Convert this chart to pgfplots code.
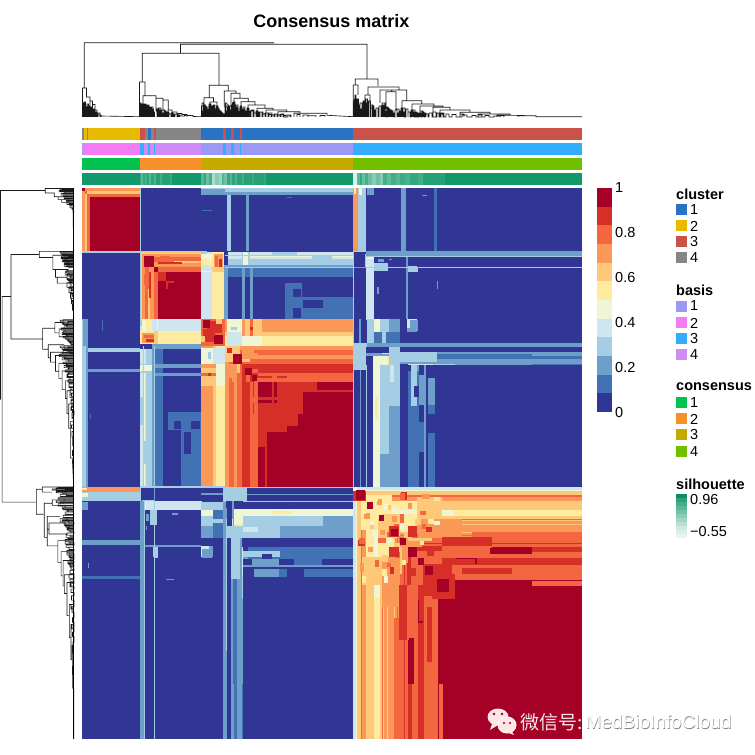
\documentclass[border=0pt]{standalone}
\usepackage{pgfplots}
\usepackage{pgfplotstable}
\usepackage{fontspec}
\pgfplotsset{compat=1.18}
\setmainfont{Liberation Sans}
\newfontfamily\cjk{Noto Sans CJK SC}

% consensus colour levels, 0 to 1
\definecolor{c0}{HTML}{313695}\definecolor{c1}{HTML}{4372B4}\definecolor{c2}{HTML}{6E9FCB}
\definecolor{c3}{HTML}{A5CDE3}\definecolor{c4}{HTML}{CFE6EF}\definecolor{c5}{HTML}{EEF6D6}
\definecolor{c6}{HTML}{FEEBA0}\definecolor{c7}{HTML}{FDC878}\definecolor{c8}{HTML}{FC9857}
\definecolor{c9}{HTML}{F26640}\definecolor{c10}{HTML}{D52F27}\definecolor{c11}{HTML}{A50026}
% annotation colours
\definecolor{cl1}{HTML}{2A72C3}\definecolor{cl2}{HTML}{E8BA00}\definecolor{cl3}{HTML}{C9524A}\definecolor{cl4}{HTML}{868686}
\definecolor{ba1}{HTML}{9B99F5}\definecolor{ba2}{HTML}{F57BF5}\definecolor{ba3}{HTML}{33AEFF}\definecolor{ba4}{HTML}{CF8CF5}
\definecolor{co1}{HTML}{00C24F}\definecolor{co2}{HTML}{F59128}\definecolor{co3}{HTML}{C4A900}\definecolor{co4}{HTML}{70C000}
\definecolor{sil}{HTML}{11996B}

% one filled block: colour, x from, x to, y from, y to
\newcommand{\Rc}[5]{\addplot[fill=#1,draw=none,forget plot] coordinates {(#2,#4)(#3,#4)(#3,#5)(#2,#5)} --cycle;}
% the matrix is symmetric: cols #2-#3 x rows #4-#5 and its mirror
\newcommand{\Sy}[5]{\Rc{#1}{#2}{#3}{#4}{#5}\Rc{#1}{#4}{#5}{#2}{#3}}
\newcommand{\Sl}[3]{\Rc{sil!#1!white}{#2}{#3}{173}{185}}
\newcommand{\Lg}[2]{\node[anchor=west,font=\fontsize{14.5}{15}\selectfont,inner sep=0pt] at (axis cs:#1,#2)}
\newcommand{\Ti}[2]{\node[anchor=west,font=\fontsize{14.5}{15}\selectfont\bfseries,inner sep=0pt] at (axis cs:#1,#2)}

% dendrogram, shared by top and left: leaf position u, height h
\pgfplotstableread[row sep=crcr]{
u h\\
2.3 29\\2.3 74.3\\192 74.3\\nan nan\\
285 38\\285 72.7\\98.5 72.7\\98.5 63.7\\60.3 63.7\\60.3 35\\nan nan\\
98.5 63.7\\137 63.7\\137 31.7\\nan nan\\
127.3 19.3\\127.3 31.7\\146.3 31.7\\146.3 26\\nan nan\\
0.5 0\\0.5 29\\4.5 29\\4.5 20\\8 20\\8 0\\8 16\\10.5 16\\10.5 0\\10.5 12.5\\13 12.5\\13 0\\13 7\\15 7\\15 0\\15 4\\18 4\\18 0\\18 1\\57.5 0.3\\nan nan\\
1.5 0\\1.5 14\\3 14\\3 0\\3 9\\4.5 9\\4.5 0\\nan nan\\
6 0\\6 11\\8 11\\nan nan\\9 0\\9 9\\10.5 9\\nan nan\\11.5 0\\11.5 7\\13 7\\nan nan\\
57.5 0\\57.5 35\\63 35\\63 21.3\\nan nan\\
60 0\\60 13\\63 13\\63 0\\63 9\\65 9\\65 0\\65 12\\67 12\\67 0\\67 7\\69 7\\69 0\\69 10\\71 10\\71 0\\71 5\\72.5 5\\72.5 0\\nan nan\\
61 13\\61 21.3\\74 21.3\\74 18.7\\81 18.7\\81 17\\86.3 17\\86.3 7\\nan nan\\
62 0\\62 6\\64 6\\nan nan\\66 0\\66 5\\68 5\\nan nan\\
74 18.7\\74 6\\76 6\\76 0\\76 9\\79 9\\79 0\\79 3\\81 3\\81 0\\nan nan\\
81 17\\81 7\\83 7\\83 0\\83 4\\86 4\\86 0\\86 7\\90 7\\90 0\\90 5\\95 5\\95 0\\95 3.5\\100 3.5\\100 0\\100 2.5\\105 2.5\\105 0\\105 1.5\\111 1.5\\111 0\\111 0.5\\119 0.3\\nan nan\\
92 0\\92 3\\94 3\\nan nan\\97 0\\97 2\\99 2\\nan nan\\102 0\\102 1.5\\104 1.5\\nan nan\\
122 11\\122 19.3\\131.5 19.3\\131.5 15\\nan nan\\
119.5 0\\119.5 11\\124 11\\124 0\\124 8\\126 8\\126 0\\nan nan\\121 0\\121 6\\123 6\\nan nan\\
128 0\\128 15\\135 15\\135 0\\135 9\\137 9\\137 0\\137 5\\140 5\\140 0\\140 3\\142 3\\142 0\\nan nan\\
130 0\\130 11\\132 11\\132 0\\132 7\\134 7\\134 0\\nan nan\\
142.3 10\\142.3 26\\154 26\\154 23.7\\nan nan\\
143 0\\143 10\\146 10\\146 0\\146 7\\148 7\\148 0\\148 4\\150 4\\150 0\\nan nan\\144.5 0\\144.5 6\\147 6\\nan nan\\
149 0\\149 23.7\\158 23.7\\158 18.7\\nan nan\\
151 0\\151 15\\153 15\\153 0\\153 10\\155 10\\155 0\\155 6\\157 6\\157 0\\nan nan\\
152 0\\152 18.7\\166.3 18.7\\166.3 15.3\\nan nan\\
159 0\\159 15.3\\173 15.3\\173 12\\nan nan\\160 0\\160 8\\162 8\\162 0\\162 5\\164 5\\164 0\\nan nan\\
166 0\\166 12\\183 12\\183 8.7\\nan nan\\168 0\\168 6\\171 6\\171 0\\nan nan\\
175 0\\175 8.7\\191 8.7\\191 7\\nan nan\\177 0\\177 5\\180 5\\180 0\\nan nan\\
184 0\\184 7\\204.7 7\\204.7 5.3\\nan nan\\187 0\\187 4\\190 4\\190 0\\190 2\\193 2\\193 0\\nan nan\\
196 0\\196 5.3\\218 5.3\\218 3.7\\nan nan\\199 0\\199 3\\202 3\\202 0\\206 0\\206 2\\209 2\\209 0\\nan nan\\
212 0\\212 3.7\\245 3.7\\245 1.7\\271 0.3\\nan nan\\215 0\\215 2.5\\218 2.5\\218 0\\nan nan\\221 0\\221 2\\226 2\\226 0\\226 1.2\\234 1.2\\234 0\\nan nan\\238 0\\238 1.5\\243 1.5\\243 0\\nan nan\\
273.3 32\\273.3 38\\296 38\\296 31\\nan nan\\
271.3 0\\271.3 32\\276 32\\276 22\\nan nan\\272.5 0\\272.5 18\\275 18\\275 0\\275 12\\277 12\\277 0\\277 8\\279 8\\279 0\\nan nan\\273.8 0\\273.8 9\\276 9\\nan nan\\
286 22\\286 30\\317 30\\317 27\\nan nan\\
283 0\\283 22\\288 22\\288 0\\288 12\\291 12\\291 0\\291 7\\293 7\\293 0\\nan nan\\285 0\\285 14\\287 14\\nan nan\\
298 14\\298 27\\325 27\\nan nan\\309.7 25.3\\309.7 27\\nan nan\\
300 0\\300 14\\303 14\\303 0\\303 10\\306 10\\306 0\\nan nan\\
309.7 25.3\\304 25.3\\304 8\\308 8\\308 0\\308 6\\311 6\\311 0\\nan nan\\309.7 25.3\\314 25.3\\314 8\\317 8\\317 0\\nan nan\\
324.7 27\\324.7 16.3\\320 16.3\\320 0\\320 9\\323 9\\323 0\\nan nan\\
324.7 16.3\\339.7 16.3\\339.7 13\\330 13\\330 0\\330 7\\333 7\\333 0\\333 4\\336 4\\336 0\\nan nan\\
339.7 13\\352 13\\352 11\\338 11\\338 0\\338 6\\341 6\\341 0\\341 4\\344 4\\344 0\\nan nan\\
352 11\\361 11\\361 9.7\\351 9.7\\351 0\\351 5\\354 5\\354 0\\nan nan\\
361 9.7\\368 9.7\\368 7\\358 7\\358 0\\358 4\\362 4\\362 0\\nan nan\\
368 7\\388 7\\388 4.7\\378 4.7\\378 0\\378 3\\382 3\\382 0\\nan nan\\
388 4.7\\408 4.7\\408 3\\396 3\\396 0\\396 2\\400 2\\400 0\\nan nan\\
408 3\\428 3\\428 1.7\\415 1.7\\415 0\\415 1.2\\422 1.2\\422 0\\nan nan\\
428 1.7\\454 1.2\\454 0.3\\500 0.3\\nan nan\\436 0\\436 1.2\\448 1.2\\nan nan\\
1 0\\1 12\\2 12\\2 0\\2 15\\3.5 15\\3.5 0\\3.5 10\\5 10\\5 0\\5 13\\6.5 13\\6.5 0\\6.5 8\\7.5 8\\7.5 0\\7.5 10\\9.5 10\\9.5 0\\9.5 6\\11 6\\11 0\\11 8\\12 8\\12 0\\12 5\\14 5\\14 0\\14 3\\16 3\\16 0\\16 2\\19 2\\19 0\\nan nan\\
58 0\\58 14\\59 14\\59 0\\59 10\\60.5 10\\60.5 0\\60.5 12\\61.5 12\\61.5 0\\61.5 9\\62.5 9\\62.5 0\\62.5 13\\64 13\\64 0\\64 8\\65.5 8\\65.5 0\\65.5 11\\66.5 11\\66.5 0\\66.5 7\\68 7\\68 0\\68 10\\69.5 10\\69.5 0\\69.5 6\\70.5 6\\70.5 0\\70.5 8\\71.5 8\\71.5 0\\nan nan\\
75 0\\75 8\\77 8\\77 0\\77 5\\78 5\\78 0\\78 7\\80 7\\80 0\\80 4\\82 4\\82 0\\82 6\\84 6\\84 0\\84 3\\85 3\\85 0\\85 5\\87 5\\87 0\\87 3\\89 3\\89 0\\89 4\\91 4\\91 0\\91 2.5\\93 2.5\\93 0\\93 3\\96 3\\96 0\\96 2\\98 2\\98 0\\nan nan\\
120 0\\120 14\\121.5 14\\121.5 0\\121.5 10\\122.5 10\\122.5 0\\122.5 12\\123.5 12\\123.5 0\\123.5 7\\125 7\\125 0\\125 10\\127 10\\127 0\\127 13\\129 13\\129 0\\129 9\\131 9\\131 0\\131 12\\133 12\\133 0\\133 8\\134.5 8\\134.5 0\\134.5 11\\136 11\\136 0\\136 7\\138 7\\138 0\\138 6\\139 6\\139 0\\139 4\\141 4\\141 0\\nan nan\\
143.5 0\\143.5 14\\145 14\\145 0\\145 12\\146.5 12\\146.5 0\\146.5 9\\147.5 9\\147.5 0\\147.5 11\\149.5 11\\149.5 0\\149.5 12\\150.5 12\\150.5 0\\150.5 14\\152 14\\152 0\\152 9\\154 9\\154 0\\154 12\\156 12\\156 0\\156 8\\158 8\\158 0\\158 11\\159.5 11\\159.5 0\\159.5 7\\161 7\\161 0\\161 10\\163 10\\163 0\\163 6\\165 6\\165 0\\165 9\\167 9\\167 0\\167 5\\169 5\\169 0\\169 7\\172 7\\172 0\\172 4\\174 4\\174 0\\174 6\\176 6\\176 0\\176 3\\178 3\\178 0\\178 5\\181 5\\181 0\\181 3\\183 3\\183 0\\183 4\\186 4\\186 0\\186 2.5\\189 2.5\\189 0\\nan nan\\
192 0\\192 3\\195 3\\195 0\\195 2\\198 2\\198 0\\198 2.5\\201 2.5\\201 0\\201 1.5\\204 1.5\\204 0\\204 2\\208 2\\208 0\\nan nan\\
271.8 0\\271.8 16\\273 16\\273 0\\273 22\\274 22\\274 0\\274 14\\275.5 14\\275.5 0\\275.5 18\\276.5 18\\276.5 0\\276.5 11\\278 11\\278 0\\278 14\\280 14\\280 0\\nan nan\\
281 0\\281 16\\282 16\\282 0\\282 10\\284 10\\284 0\\284 18\\285.5 18\\285.5 0\\285.5 11\\286.5 11\\286.5 0\\286.5 16\\288.5 16\\288.5 0\\288.5 9\\290 9\\290 0\\290 11\\292 11\\292 0\\292 6\\294 6\\294 0\\294 9\\296 9\\296 0\\nan nan\\
297 0\\297 11\\299 11\\299 0\\299 7\\301 7\\301 0\\301 12\\302 12\\302 0\\302 6\\304 6\\304 0\\305 0\\305 9\\307 9\\307 0\\307 5\\309 5\\309 0\\309 7\\310 7\\310 0\\310 4\\312 4\\312 0\\313 0\\313 7\\315 7\\315 0\\315 4\\316 4\\316 0\\nan nan\\
318 0\\318 6\\319 6\\319 0\\319 9\\321 9\\321 0\\321 5\\322 5\\322 0\\324 0\\324 8\\326 8\\326 0\\326 5\\328 5\\328 0\\329 0\\329 7\\331 7\\331 0\\331 5\\332 5\\332 0\\334 0\\334 5\\335 5\\335 0\\337 0\\337 4\\339 4\\339 0\\340 0\\340 5\\342 5\\342 0\\343 0\\343 3\\346 3\\346 0\\347 0\\347 4\\350 4\\350 0\\355 0\\355 4\\357 4\\357 0\\359 0\\359 3\\361 3\\361 0\\364 0\\364 3\\367 3\\367 0\\370 0\\370 2.5\\374 2.5\\374 0\\380 0\\380 2\\385 2\\385 0\\390 0\\390 1.5\\394 1.5\\394 0\\403 0\\403 1.5\\407 1.5\\407 0\\412 0\\412 1\\418 1\\418 0\\
}\tree

\pgfplotsset{
  panel/.style={hide axis,scale only axis,clip=false,anchor=south west},
  treeline/.style={black!90,line width=0.65pt,unbounded coords=jump,mark=none,forget plot},
}

\begin{document}
\begin{tikzpicture}
\path[use as bounding box] (0,0) rectangle (755pt,755pt);

% consensus heatmap, in sample positions 0-500
\begin{axis}[panel,clip=true,at={(82pt,16pt)},width=500pt,height=551pt,
  xmin=0,xmax=500,ymin=0,ymax=500,y dir=reverse]
\Rc{c0}{0}{500}{0}{500}
% sample group 1 against the others
\Sy{c3}{57.5}{59}{0}{57.5}
\Sy{c3}{119}{150}{0}{6}
\Sy{c3}{145}{149}{0}{57.5}
\Sy{c2}{164}{167}{0}{57.5}
\Sy{c3}{143}{271}{0}{3.5}
\Sy{c2}{143}{271}{3.5}{6}
\Sy{c1}{205}{210}{8}{9}
\Sy{c1}{120}{130}{20}{21}
\Sy{c2}{119}{143}{1}{6}
\Sy{c8}{271}{276}{0}{57.5}
\Sy{c6}{272}{274}{0}{5}
\Sy{c3}{276}{284}{0}{57.5}
\Sy{c5}{277}{280}{0}{6}
\Sy{c2}{319}{324}{0}{57.5}
\Sy{c1}{352}{355}{0}{57.5}
\Sy{c2}{340}{345}{6}{7}
\Sy{c2}{285}{292}{0}{6}
% group 2 against 3 and 4
\Sy{c4}{146}{271}{58}{65}
\Sy{c3}{146}{271}{64}{70}
\Sy{c2}{146}{271}{70}{73}
\Sy{c1}{146}{271}{73}{81}
\Sy{c5}{160}{271}{62}{63}
\Sy{c3}{160}{168}{58}{70}
\Sy{c5}{161}{166}{58}{70}
\Sy{c3}{190}{215}{58}{62}
\Sy{c3}{230}{250}{62}{64}
\Sy{c2}{142}{146}{70}{119}
\Sy{c2}{160}{163}{73}{119}
\Sy{c2}{168}{171}{73}{119}
\Sy{c1}{203}{220}{86}{119}
\Sy{c1}{220}{271}{98.7}{119}
\Sy{c0}{221}{241}{101.6}{109}
\Sy{c0}{211}{219}{109}{118}
\Sy{c0}{211}{219}{92}{98.7}
\Sy{c3}{143}{271}{61}{62}
\Sy{c3}{143}{271}{72}{73}
\Sy{c4}{119}{130}{58}{119}
\Sy{c6}{130}{142}{58}{119}
\Sy{c5}{119}{130}{60}{70}
\Sy{c6}{119}{132}{64}{70}
\Sy{c8}{132}{141}{60}{72}
\Sy{c9}{133}{136}{62}{72}
\Sy{c10}{137}{140}{64}{72}
\Sy{c7}{130}{142}{72}{76}
\Sy{c3}{119}{125}{57.5}{60}
\Sy{c5}{119}{130}{75}{76}
\Sy{c4}{285}{292}{58}{119}
\Sy{c5}{285}{292}{58}{64}
\Sy{c3}{283}{285}{60}{72}
\Sy{c2}{324}{326}{58}{119}
\Sy{c3}{271}{500}{57.5}{58.5}
\Sy{c2}{292}{500}{61}{62}
\Sy{c2}{271}{500}{72}{73}
\Sy{c3}{292}{306}{68}{75}
\Sy{c2}{296}{302}{64}{67}
\Sy{c3}{326}{335}{71}{76}
\Sy{c2}{355}{356}{84}{92}
\Sy{c2}{295}{297}{90}{96}
\Sy{c2}{307}{310}{64}{65}
\Sy{c1}{62}{72}{271}{272}
% group 3a against 3b and 4
\Sy{c8}{143}{271}{119}{131}
\Sy{c7}{143}{271}{131}{134}
\Sy{c6}{143}{271}{134}{143}
\Sy{c5}{145}{160}{119}{131}
\Sy{c4}{145}{160}{131}{143}
\Sy{c7}{160}{180}{119}{131}
\Sy{c5}{160}{180}{134}{143}
\Sy{c8}{160}{163}{119}{134}
\Sy{c9}{168}{171}{119}{134}
\Sy{c3}{149}{155}{126}{129}
\Sy{c10}{168}{171}{126}{129}
\Sy{c8}{200}{208}{124}{127}
\Sy{c3}{285}{292}{119}{143}
\Sy{c5}{292}{298}{119}{131}
\Sy{c3}{298}{307}{119}{131}
\Sy{c2}{307}{318}{119}{131}
\Sy{c4}{325}{335}{119}{127}
\Sy{c2}{325}{335}{127}{131}
\Sy{c1}{292}{318}{131}{143}
\Sy{c3}{300}{304}{131}{143}
\Sy{c2}{277}{279}{119}{143}
% group 3b against 4
\Sy{c2}{290}{500}{142.5}{144.5}
\Sy{c3}{300}{420}{142.5}{144.5}
\Sy{c1}{271}{284}{146}{160}
\Sy{c3}{271}{284}{143}{146}
\Sy{c3}{271}{284}{150}{151}
\Sy{c3}{271}{284}{155}{156}
\Sy{c2}{200}{500}{150}{152}
\Sy{c4}{300}{440}{150}{151}
\Sy{c5}{291}{305}{152}{161}
\Sy{c6}{305}{318}{152}{161}
\Sy{c4}{326}{351}{152}{161}
\Sy{c3}{351}{373}{152}{161}
\Sy{c3}{373}{450}{152}{156}
\Sy{c2}{373}{450}{156}{161}
\Sy{c1}{450}{500}{152}{161}
\Sy{c5}{291}{298}{161}{271}
\Sy{c3}{298}{310}{161}{241}
\Sy{c2}{298}{310}{241}{271}
\Sy{c3}{307}{318}{143}{198}
\Sy{c2}{307}{318}{198}{271}
\Sy{c4}{308}{312}{161}{176}
\Sy{c6}{293}{296}{190}{210}
\Sy{c2}{330}{337}{161}{271}
\Sy{c1}{326}{337}{166}{271}
\Sy{c3}{329}{335}{161}{198}
\Sy{c2}{337}{342}{170}{197}
\Sy{c2}{342}{344}{161}{271}
\Sy{c1}{346}{353}{172}{271}
\Sy{c2}{346}{353}{172}{197}
\Sy{c0}{346}{353}{205}{222}
\Sy{c2}{278}{279}{161}{271}
\Sy{c3}{284}{285}{161}{271}
\Sy{c3}{271}{272}{161}{271}
\Sy{c0}{332}{337}{180}{190}
\Sy{c1}{337}{342}{212}{240}
\Sy{c3}{141}{144}{271}{285}
\Sy{c2}{141}{144}{285}{500}
\Sy{c3}{149}{158}{318}{355}
\Sy{c2}{149}{158}{355}{450}
\Sy{c2}{149}{151}{450}{500}
\Sy{c2}{155}{158}{450}{500}
\Sy{c1}{151}{155}{355}{450}
\Sy{c2}{158}{160}{318}{500}
\Sy{c3}{142}{165}{271}{284}
\Sy{c3}{328}{336}{72}{76}
\Sy{c2}{120}{130}{328}{336}
\Sy{c3}{270.5}{272}{57.5}{271}
\Sy{c4}{284}{285}{60}{120}
\Sy{c2}{57.5}{62}{284}{500}
\Sy{c3}{62}{63}{284}{500}
\Sy{c3}{72}{73}{284}{500}
% diagonal block 1
\Sy{c11}{8}{57.5}{8}{57.5}
\Sy{c9}{5}{57.5}{5}{8}
\Sy{c7}{3}{57.5}{3}{5}
\Sy{c8}{0}{57.5}{0}{3}
\Sy{c11}{0}{3}{0}{3}
\Sy{c9}{3}{5}{3}{5}
% diagonal block 2
\Sy{c11}{76}{119}{76}{119}
\Sy{c9}{72}{119}{72}{76}
\Sy{c8}{67}{119}{67}{72}
\Sy{c9}{63}{119}{63}{67}
\Sy{c8}{60}{119}{60}{63}
\Sy{c7}{57.5}{119}{58.5}{60}
\Sy{c3}{57.5}{119}{57.5}{58.5}
\Sy{c11}{62}{72}{62}{72}
\Sy{c11}{72}{76}{72}{76}
\Sy{c10}{76}{84}{76}{84}
\Sy{c9}{78}{88}{62}{68}
\Sy{c7}{92}{119}{66}{68}
\Sy{c10}{67}{69}{76}{100}
\Sy{c10}{84}{86}{84}{92}
% diagonal block 3a
\Rc{c9}{119}{143}{119}{143}
\Sy{c10}{128}{140}{121}{132}
\Rc{c11}{121}{128}{120}{127}
\Rc{c11}{132}{141}{133}{142}
\Rc{c10}{125}{133}{127}{134}
\Sy{c7}{119}{123}{134}{140}
% diagonal block 3b
\Rc{c11}{143}{271}{143}{271}
\Sy{c8}{143}{271}{143}{147}
\Sy{c9}{147}{271}{147}{151.5}
\Sy{c8}{151.5}{271}{151.5}{155}
\Sy{c9}{155}{271}{155}{160}
\Sy{c10}{160}{271}{160}{164}
\Sy{c9}{164}{271}{164}{168}
\Sy{c10}{168}{271}{168}{172}
\Sy{c9}{172}{271}{172}{176}
\Sy{c10}{195}{221}{176}{205}
\Sy{c10}{176}{185}{205}{271}
\Sy{c9}{171}{176}{205}{271}
\Sy{c11}{176}{183}{235}{271}
\Sy{c10}{160}{168}{176}{271}
\Sy{c9}{168}{171}{176}{271}
\Sy{c10}{190}{192}{176}{215}
\Sy{c10}{205}{216}{205}{216}
\Sy{c9}{171}{175}{190}{195}
\Sy{c8}{150}{155}{171}{176}
\Sy{c7}{143}{158}{143}{151}
\Sy{c7}{147}{158}{160}{168}
\Sy{c8}{160}{172}{147}{155}
\Rc{c11}{151}{160}{151}{160}
\Rc{c11}{163}{170}{163}{170}
\Rc{c11}{170}{175}{170}{175}
\Rc{c10}{145}{150}{145}{150}
\Rc{c11}{176}{190}{176}{190}
% diagonal block 4
\Sy{c5}{271}{500}{271}{275}
\Sy{c7}{275}{500}{275}{280}
\Sy{c8}{280}{500}{280}{287}
\Sy{c7}{287}{500}{287}{292}
\Sy{c5}{292}{500}{292}{298}
\Sy{c7}{298}{500}{298}{302}
\Sy{c8}{302}{500}{302}{305}
\Sy{c7}{305}{500}{305}{313}
\Sy{c8}{313}{500}{313}{317}
\Sy{c9}{317}{500}{317}{325}
\Sy{c10}{325}{500}{325}{329}
\Sy{c9}{329}{500}{329}{341}
\Sy{c10}{341}{500}{341}{355}
\Rc{c11}{355}{500}{355}{500}
\Sy{c4}{271}{274}{275}{500}
\Sy{c7}{275}{279}{450}{500}
\Sy{c6}{292}{298}{355}{500}
\Sy{c9}{290}{500}{279}{280}
\Sy{c9}{300}{500}{300}{301}
\Sy{c9}{315}{500}{315}{316}
\Sy{c10}{320}{500}{322}{323}
\Sy{c6}{279}{310}{279}{296}
\Sy{c6}{284}{300}{296}{316}
\Sy{c7}{300}{318}{296}{316}
\Sy{c6}{310}{345}{284}{292}
\Sy{c6}{318}{345}{296}{312}
\Sy{c7}{345}{358}{290}{312}
\Sy{c7}{322}{350}{312}{320}
\Sy{c5}{345}{372}{292}{298}
\Sy{c8}{318}{340}{320}{326}
\Sy{c7}{280}{300}{335}{360}
\Sy{c8}{300}{318}{335}{380}
\Sy{c7}{284}{292}{360}{500}
\Sy{c8}{306}{312}{360}{500}
\Sy{c9}{312}{317}{390}{500}
\Sy{c10}{317}{325}{360}{410}
\Sy{c9}{325}{336}{360}{500}
\Sy{c10}{326}{330}{450}{500}
\Sy{c11}{326}{330}{410}{450}
\Sy{c10}{336}{341}{360}{500}
\Sy{c11}{336}{341}{374}{395}
\Sy{c9}{342}{356}{370}{500}
\Sy{c10}{345}{350}{380}{430}
\Sy{c10}{276}{283}{319}{325}
\Sy{c9}{318}{323}{277}{283}
\Sy{c11}{408}{450}{327}{332}
\Sy{c10}{373}{393}{337}{342}
\Rc{c10}{350}{373}{350}{373}
\Rc{c11}{355}{367}{355}{367}
\Sy{c9}{357}{361}{450}{500}
\Sy{c11}{363}{370}{374}{392}
% mottling near the diagonal
\Sy{c8}{282}{286}{296}{300}
\Sy{c7}{288}{292}{303}{309}
\Sy{c5}{290}{296}{310}{316}
\Sy{c8}{295}{300}{284}{288}
\Sy{c5}{302}{306}{287}{292}
\Sy{c8}{310}{315}{298}{303}
\Sy{c9}{312}{317}{305}{307}
\Sy{c5}{318}{322}{305}{310}
\Sy{c8}{326}{330}{286}{291}
\Sy{c7}{333}{339}{300}{306}
\Sy{c9}{340}{344}{305}{309}
\Sy{c8}{347}{352}{300}{305}
\Sy{c5}{352}{358}{302}{306}
\Sy{c9}{330}{336}{314}{318}
\Sy{c9}{326}{330}{307}{312}
\Sy{c8}{278}{282}{340}{348}
\Sy{c6}{280}{284}{352}{358}
\Sy{c9}{293}{297}{338}{344}
\Sy{c6}{300}{305}{346}{352}
\Sy{c10}{308}{312}{344}{350}
\Sy{c6}{320}{324}{338}{342}
\Sy{c10}{328}{334}{345}{352}
\Rc{c10}{271}{284}{275}{284}
\Rc{c11}{274}{283}{274}{283}
\Rc{c11}{285}{291}{285}{291}
\Rc{c11}{297}{302}{297}{302}
\Rc{c10}{307}{317}{307}{317}
\Rc{c11}{309}{316}{309}{316}
\Rc{c11}{318}{324}{318}{324}
\Rc{c11}{326}{335}{326}{335}
\Rc{c11}{336}{342}{336}{342}
\Rc{c11}{343}{351}{343}{351}
\Sy{c10}{326}{335}{307}{317}
\Sy{c9}{296}{304}{318}{322}
\end{axis}

% dendrograms
\begin{axis}[panel,at={(82pt,638pt)},width=500pt,height=75pt,xmin=0,xmax=500,ymin=0,ymax=75]
\addplot[treeline] table[x=u,y=h] {\tree};
\end{axis}
\begin{axis}[panel,at={(0pt,16pt)},width=74pt,height=551pt,xmin=0,xmax=74.8,x dir=reverse,ymin=0,ymax=500,y dir=reverse]
\addplot[treeline] table[x=h,y=u] {\tree};
\addplot[black,line width=1.6pt,mark=none,forget plot] coordinates {(0.6,0)(0.6,500)};
\end{axis}

% annotation tracks, colour bar, legends: axis in image pixels
\begin{axis}[panel,at={(0pt,0pt)},width=755pt,height=755pt,xmin=0,xmax=755,ymin=0,ymax=755,y dir=reverse]
% cluster
\Rc{cl2}{82}{139.5}{128}{140}
\Rc{cl4}{82}{84}{128}{140}\Rc{cl4}{86.5}{88}{128}{140}
\Rc{cl4}{139.5}{201}{128}{140}
\Rc{cl3}{139.5}{145}{128}{140}\Rc{cl1}{148}{151}{128}{140}\Rc{cl3}{154}{156}{128}{140}
\Rc{cl1}{201}{353}{128}{140}
\Rc{cl3}{223}{226}{128}{140}\Rc{cl3}{231}{234}{128}{140}\Rc{cl3}{240}{242}{128}{140}
\Rc{cl3}{353}{582}{128}{140}
% basis
\Rc{ba2}{82}{139.5}{143}{155}\Rc{ba4}{82}{84.5}{143}{155}
\Rc{ba4}{139.5}{201}{143}{155}
\Rc{ba3}{139.5}{144}{143}{155}\Rc{ba3}{148}{149.5}{143}{155}\Rc{ba3}{154}{155}{143}{155}
\Rc{ba1}{201}{353}{143}{155}
\Rc{ba3}{223}{226}{143}{155}\Rc{ba3}{231}{234}{143}{155}\Rc{ba3}{240}{241}{143}{155}
\Rc{ba3}{353}{582}{143}{155}
% consensus
\Rc{co1}{82}{139.5}{158}{170}\Rc{co2}{139.5}{201}{158}{170}\Rc{co3}{201}{353}{158}{170}\Rc{co4}{353}{582}{158}{170}
% silhouette
\Rc{sil}{82}{582}{173}{185}
\Sl{85}{139.5}{141}\Sl{70}{141}{143}\Sl{85}{143}{145}\Sl{78}{145}{146.5}\Sl{90}{146.5}{149}\Sl{72}{149}{150.5}\Sl{88}{150.5}{154}\Sl{75}{154}{155.5}\Sl{92}{155.5}{160}\Sl{80}{160}{162}\Sl{92}{162}{170}\Sl{85}{170}{172}
\Sl{72}{201}{204}\Sl{85}{204}{206}\Sl{62}{206}{208.5}\Sl{78}{208.5}{212}
\Sl{35}{212}{215}\Sl{50}{215}{219}\Sl{42}{219}{222}\Sl{72}{222}{224}\Sl{60}{224}{227}\Sl{85}{227}{230}\Sl{72}{230}{232}\Sl{88}{232}{235}\Sl{75}{235}{237}\Sl{90}{237}{242}\Sl{80}{242}{244}\Sl{92}{244}{252}\Sl{84}{252}{254}\Sl{92}{254}{264}\Sl{86}{264}{266}
\Sl{15}{353}{357}\Sl{70}{357}{360}\Sl{85}{360}{362}\Sl{62}{362}{365}\Sl{78}{365}{368}\Sl{62}{368}{372}\Sl{50}{372}{376}\Sl{62}{376}{380}\Sl{52}{380}{383}
\Sl{78}{383}{387}\Sl{68}{387}{391}\Sl{80}{391}{396}\Sl{72}{396}{400}\Sl{82}{400}{405}\Sl{76}{405}{410}\Sl{86}{410}{418}\Sl{80}{418}{423}\Sl{92}{423}{445}
% colour bar
\Rc{c11}{597}{612}{188}{206.7}\Rc{c10}{597}{612}{206.7}{225.3}\Rc{c9}{597}{612}{225.3}{244}
\Rc{c8}{597}{612}{244}{262.7}\Rc{c7}{597}{612}{262.7}{281.3}\Rc{c6}{597}{612}{281.3}{300}
\Rc{c5}{597}{612}{300}{318.7}\Rc{c4}{597}{612}{318.7}{337.3}\Rc{c3}{597}{612}{337.3}{356}
\Rc{c2}{597}{612}{356}{374.7}\Rc{c1}{597}{612}{374.7}{393.3}\Rc{c0}{597}{612}{393.3}{412}
\Lg{615}{188}{1};\Lg{615}{233}{0.8};\Lg{615}{278}{0.6};\Lg{615}{323}{0.4};\Lg{615}{368}{0.2};\Lg{615}{413}{0};
% legends
\Ti{676}{194}{cluster};
\Rc{cl1}{676}{687}{204}{215}\Rc{cl2}{676}{687}{220}{231}\Rc{cl3}{676}{687}{236}{247}\Rc{cl4}{676}{687}{252}{263}
\Lg{690}{210}{1};\Lg{690}{226}{2};\Lg{690}{242}{3};\Lg{690}{258}{4};
\Ti{676}{290}{basis};
\Rc{ba1}{676}{687}{301}{312}\Rc{ba2}{676}{687}{317}{328}\Rc{ba3}{676}{687}{333}{344}\Rc{ba4}{676}{687}{349}{360}
\Lg{690}{306}{1};\Lg{690}{323}{2};\Lg{690}{339}{3};\Lg{690}{355}{4};
\Ti{676}{387}{consensus};
\Rc{co1}{676}{687}{397}{408}\Rc{co2}{676}{687}{413}{424}\Rc{co3}{676}{687}{429}{440}\Rc{co4}{676}{687}{446}{457}
\Lg{690}{403}{1};\Lg{690}{419}{2};\Lg{690}{435}{3};\Lg{690}{452}{4};
\Ti{676}{484}{silhouette};
\Rc{sil!90!black}{676}{687}{494}{499}\Rc{sil!90!white}{676}{687}{498}{503}\Rc{sil!80!white}{676}{687}{502}{507}
\Rc{sil!70!white}{676}{687}{506}{511}\Rc{sil!60!white}{676}{687}{510}{515}\Rc{sil!50!white}{676}{687}{514}{519}
\Rc{sil!40!white}{676}{687}{518}{523}\Rc{sil!30!white}{676}{687}{522}{527}\Rc{sil!22!white}{676}{687}{526}{531}
\Rc{sil!15!white}{676}{687}{530}{535}\Rc{sil!10!white}{676}{687}{534}{538}
\Lg{690}{500}{0.96};\Lg{690}{532}{−0.55};
% title
\node[font=\fontsize{18}{20}\selectfont\bfseries,inner sep=0pt] at (axis cs:331.5,21) {Consensus matrix};
% watermark
\fill[white!90!red] (axis cs:498,717) ellipse [x radius=10.5pt,y radius=8.5pt];
\fill[white!90!red] (axis cs:492,724) -- (axis cs:490,730) -- (axis cs:498,725) -- cycle;
\fill[white] (axis cs:507,725) ellipse [x radius=9.5pt,y radius=8.5pt];
\fill[white!90!red] (axis cs:507,725) ellipse [x radius=8.5pt,y radius=7.5pt];
\fill[white!90!red] (axis cs:511,730) -- (axis cs:514,735) -- (axis cs:506,732) -- cycle;
\fill[c11!80!black] (axis cs:494,714) circle (1.4pt);
\fill[c11!80!black] (axis cs:502,714) circle (1.4pt);
\fill[c11!80!black] (axis cs:504,723) circle (1.2pt);
\fill[c11!80!black] (axis cs:510,723) circle (1.2pt);
\node[anchor=west,inner sep=0pt,text=white!90!c11,font=\cjk\fontsize{19}{20}\selectfont] at (axis cs:520.5,722) {微信号:};
\node[anchor=west,inner sep=0pt,text=gray,font=\fontsize{19}{20}\selectfont] at (axis cs:586,722.7) {MedBioInfoCloud};
\node[anchor=west,inner sep=0pt,text=white,font=\fontsize{19}{20}\selectfont] at (axis cs:585.5,722) {MedBioInfoCloud};
\end{axis}
\end{tikzpicture}
\end{document}
